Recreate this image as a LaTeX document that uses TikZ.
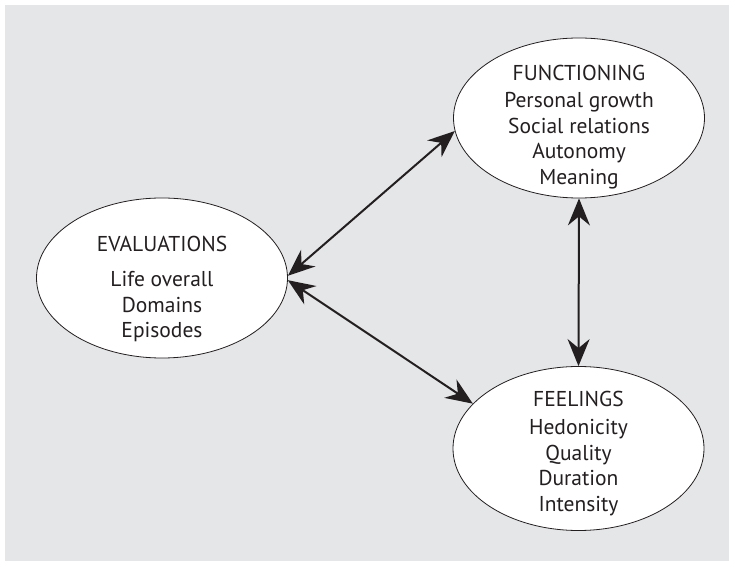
\documentclass[tikz,border=0pt]{standalone}
\usepackage{fontspec}
\setmainfont{PT Sans}
\usepackage{xcolor}
\usetikzlibrary{shapes.geometric,arrows.meta}
\definecolor{panelgray}{RGB}{229,230,232}
\definecolor{inkgray}{RGB}{35,31,32}

\begin{document}
\begin{tikzpicture}[x=1pt,y=-1pt,
        bubble/.style={ellipse,draw=inkgray,fill=white,line width=0.8pt,
            minimum width=251pt,minimum height=160pt,inner sep=0pt},
        bubbletext/.style={align=center,text=inkgray,inner sep=0pt,
            font=\fontsize{21.5}{25.5}\selectfont},
        link/.style={draw=inkgray,line width=2pt,
            {Stealth[length=27pt,width=22pt,inset=9pt]}-{Stealth[length=27pt,width=22pt,inset=9pt]}}
        ]
        \useasboundingbox (0,0) rectangle (729,561);
        \fill[panelgray] (5,5) rectangle (729,561); %background panel

        % Ellipses
        \node[bubble] (eval) at (162,278) {};
        \node[bubble] (func) at (579,118) {};
        \node[bubble,minimum height=164pt] (feel) at (578.5,448.5) {};

        \node[bubbletext] (evaltext) at (162,289) {EVALUATIONS\\[10pt] Life overall\\ Domains\\ Episodes};
        \node[bubbletext] (functext) at (579,127) {FUNCTIONING\\[2pt] Personal growth\\ Social relations\\ Autonomy\\ Meaning};
        \node[bubbletext] (feeltext) at (578.5,453.5) {FEELINGS\\[3pt] Hedonicity\\ Quality\\ Duration\\ Intensity};

        % Arrows
        \draw[link] (eval.1) -- (func.186);
        \draw[link] (eval.-1) -- (feel.157);
        \draw[link] (func.south) -- (feel.north);
\end{tikzpicture}
\end{document}
